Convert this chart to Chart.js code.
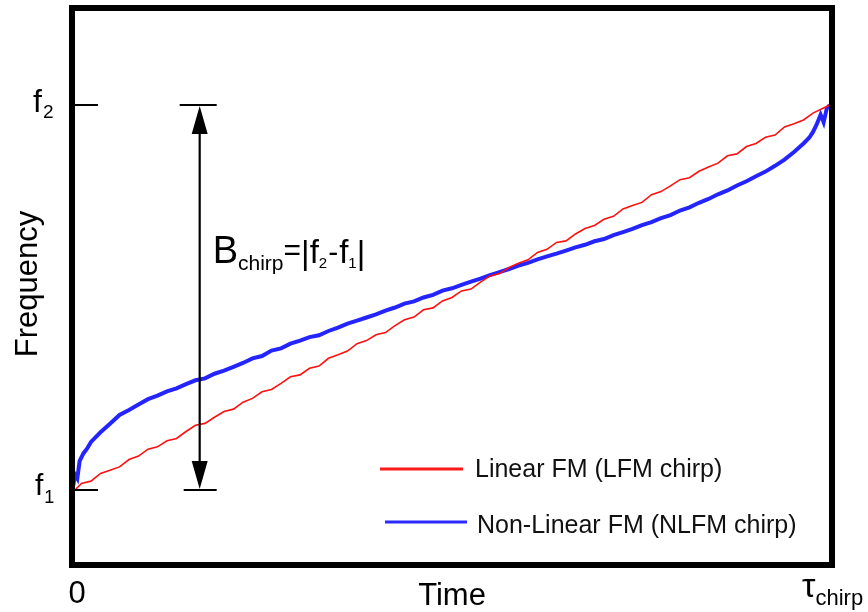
<!DOCTYPE html>
<html>
<head>
<meta charset="utf-8">
<script src="https://cdn.jsdelivr.net/npm/chart.js@4"></script>
<style>
html,body{margin:0;padding:0;background:#fff;}
#wrap{width:868px;height:612px;}
</style>
</head>
<body>
<div id="wrap"><canvas id="c" width="868" height="612"></canvas></div>
<script>
// ---- data (normalised: time 0..1 = 0..tau_chirp, frequency 0 = f1, 1 = f2) ----
const seriesLabels = ["Linear FM (LFM chirp)", "Non-Linear FM (NLFM chirp)"];
const redT = [0.004,0.0125,0.025,0.0375,0.05,0.0625,0.075,0.0875,0.1,0.1125,0.125,0.1375,0.15,0.1625,0.175,0.1875,0.2,0.2125,0.225,0.2375,0.25,0.2625,0.275,0.2875,0.3,0.3125,0.325,0.3375,0.35,0.3625,0.375,0.3875,0.4,0.4125,0.425,0.4375,0.45,0.4625,0.475,0.4875,0.5,0.5125,0.525,0.5375,0.55,0.5625,0.575,0.5875,0.6,0.6125,0.625,0.6375,0.65,0.6625,0.675,0.6875,0.7,0.7125,0.725,0.7375,0.75,0.7625,0.775,0.7875,0.8,0.8125,0.825,0.8375,0.85,0.8625,0.875,0.8875,0.9,0.9125,0.925,0.9375,0.95,0.9625,0.975,0.9875,0.997];
const redF = [0.000,0.017,0.023,0.043,0.051,0.060,0.079,0.088,0.106,0.112,0.128,0.134,0.152,0.168,0.173,0.189,0.204,0.210,0.228,0.238,0.255,0.261,0.277,0.294,0.299,0.316,0.322,0.342,0.351,0.361,0.380,0.388,0.403,0.409,0.427,0.442,0.449,0.468,0.473,0.491,0.500,0.517,0.522,0.540,0.556,0.562,0.578,0.589,0.598,0.617,0.625,0.643,0.647,0.665,0.679,0.687,0.703,0.711,0.730,0.739,0.747,0.767,0.775,0.790,0.806,0.811,0.828,0.839,0.849,0.868,0.873,0.892,0.900,0.916,0.922,0.943,0.951,0.961,0.979,0.991,1.000];
const blueT = [0.001,0.004,0.007,0.010,0.015,0.020,0.025,0.0375,0.05,0.0625,0.075,0.0875,0.1,0.1125,0.125,0.1375,0.15,0.1625,0.175,0.1875,0.2,0.2125,0.225,0.2375,0.25,0.2625,0.275,0.2875,0.3,0.3125,0.325,0.3375,0.35,0.3625,0.375,0.3875,0.4,0.4125,0.425,0.4375,0.45,0.4625,0.475,0.4875,0.5,0.5125,0.525,0.5375,0.55,0.5625,0.575,0.5875,0.6,0.6125,0.625,0.6375,0.65,0.6625,0.675,0.6875,0.7,0.7125,0.725,0.7375,0.75,0.7625,0.775,0.7875,0.8,0.8125,0.825,0.8375,0.85,0.8625,0.875,0.8875,0.9,0.9125,0.925,0.9375,0.95,0.9625,0.97,0.975,0.98,0.985,0.989,0.993,0.997];
const blueF = [0.005,0.040,0.030,0.075,0.095,0.108,0.125,0.150,0.172,0.195,0.208,0.222,0.236,0.245,0.256,0.264,0.275,0.285,0.290,0.302,0.310,0.320,0.330,0.342,0.348,0.362,0.368,0.380,0.388,0.397,0.402,0.413,0.422,0.432,0.440,0.448,0.456,0.466,0.474,0.484,0.490,0.500,0.507,0.518,0.524,0.533,0.541,0.549,0.558,0.566,0.574,0.583,0.590,0.599,0.607,0.614,0.622,0.630,0.637,0.646,0.652,0.662,0.670,0.678,0.688,0.696,0.706,0.714,0.726,0.734,0.746,0.756,0.768,0.778,0.791,0.802,0.815,0.827,0.842,0.858,0.878,0.900,0.915,0.930,0.950,0.975,0.955,0.990,1.000];
const yTickLabels = [{v:0, main:"f", sub:"1"}, {v:1, main:"f", sub:"2"}];
const xTickLabels = [{v:0, text:"0"}, {v:1, main:"\u03c4", sub:"chirp"}];
const xTitle = "Time";
const yTitle = "Frequency";
const arrowT = 0.168;   // time position of the bandwidth arrow

const FONT = '"Liberation Sans", Arial, Helvetica, sans-serif';
const f = (s) => s + 'px ' + FONT;

const decor = {
  id: 'decor',
  afterDraw(chart) {
    const ctx = chart.ctx;
    const xs = chart.scales.x, ys = chart.scales.y;
    const ca = chart.chartArea;
    ctx.save();
    ctx.fillStyle = '#000';
    ctx.strokeStyle = '#000';
    // frame
    ctx.lineWidth = 6;
    ctx.strokeRect(ca.left, ca.top, ca.right - ca.left, ca.bottom - ca.top);
    // y tick marks
    ctx.lineWidth = 2;
    yTickLabels.forEach(t => {
      const py = Math.round(ys.getPixelForValue(t.v));
      ctx.beginPath(); ctx.moveTo(ca.left, py); ctx.lineTo(ca.left + 26, py); ctx.stroke();
    });
    // bandwidth arrow
    const ax = xs.getPixelForValue(arrowT);
    const yTop = ys.getPixelForValue(1), yBot = ys.getPixelForValue(0);
    ctx.lineWidth = 2.2;
    ctx.beginPath();
    ctx.moveTo(ax, yTop + 20); ctx.lineTo(ax, yBot - 20);
    ctx.moveTo(ax - 20, yTop); ctx.lineTo(ax + 17, yTop);
    ctx.moveTo(ax - 16, yBot); ctx.lineTo(ax + 17, yBot);
    ctx.stroke();
    ctx.beginPath();
    ctx.moveTo(ax, yTop + 1); ctx.lineTo(ax - 8, yTop + 29); ctx.lineTo(ax + 8, yTop + 29); ctx.closePath();
    ctx.moveTo(ax, yBot - 1); ctx.lineTo(ax - 8, yBot - 29); ctx.lineTo(ax + 8, yBot - 29); ctx.closePath();
    ctx.fill();

    ctx.textAlign = 'left';
    ctx.textBaseline = 'alphabetic';
    // y tick labels
    yTickLabels.forEach((t) => {
      const py = ys.getPixelForValue(t.v);
      const cfg = t.v === 1 ? {x:33, fs:32, ss:19, base: py + 7, sbase: py + 13} : {x:35, fs:30, ss:18, base: py + 5, sbase: py + 13};
      ctx.font = f(cfg.fs);
      ctx.fillText(t.main, cfg.x, cfg.base);
      const w = ctx.measureText(t.main).width;
      ctx.font = f(cfg.ss);
      ctx.fillText(t.sub, cfg.x + w + 1, cfg.sbase);
    });
    // x tick labels
    ctx.font = f(31);
    ctx.textAlign = 'center';
    ctx.fillText(xTickLabels[0].text, xs.getPixelForValue(xTickLabels[0].v) + 5, 603);
    ctx.textAlign = 'left';
    ctx.font = f(34);
    const tx = xs.getPixelForValue(xTickLabels[1].v) - 30;
    ctx.fillText(xTickLabels[1].main, tx, 597);
    const tw = ctx.measureText(xTickLabels[1].main).width;
    ctx.font = f(22);
    ctx.fillText(xTickLabels[1].sub, tx + tw, 605);
    // axis titles
    ctx.font = f(31);
    ctx.textAlign = 'center';
    ctx.fillText(xTitle, (ca.left + ca.right) / 2, 605);
    ctx.save();
    ctx.translate(37, 284);
    ctx.rotate(-Math.PI / 2);
    ctx.font = f(31);
    ctx.fillText(yTitle, 0, 0);
    ctx.restore();

    // B_chirp = |f2 - f1|
    ctx.textAlign = 'left';
    let x = ax + 13;
    const base = 263;
    const piece = (txt, size, b, gap) => {
      ctx.font = f(size);
      ctx.fillText(txt, x, b);
      x += ctx.measureText(txt).width + (gap || 0);
    };
    piece("B", 38, base, 0);
    piece("chirp", 21, base + 7, 0);
    piece("=", 30, base - 3, 0);
    piece("|", 33, base + 1, 0);
    piece("f", 33, base, 0);
    piece("2", 15, base + 5, 1);
    piece("-", 30, base - 1, 1);
    piece("f", 33, base, 0);
    piece("1", 15, base + 5, 0);
    piece("|", 33, base + 1, 0);

    // legend
    const lg = [{color:'#ff1a1a', y:469, x1:380, x2:463, tx:475, ty:477, lw:3},
                {color:'#2b2bff', y:522, x1:385, x2:467, tx:477, ty:533, lw:3}];
    chart.data.datasets.forEach((ds, i) => {
      const g = lg[i];
      ctx.strokeStyle = g.color; ctx.lineWidth = g.lw;
      ctx.beginPath(); ctx.moveTo(g.x1, g.y); ctx.lineTo(g.x2, g.y); ctx.stroke();
      ctx.fillStyle = '#111';
      ctx.font = f(25);
      ctx.fillText(ds.label, g.tx, g.ty);
    });
    ctx.restore();
  }
};

const toXY = (ts, vs) => ts.map((t, i) => ({x: t, y: vs[i]}));

new Chart(document.getElementById('c'), {
  type: 'line',
  data: {
    datasets: [
      {label: seriesLabels[0], data: toXY(redT, redF), borderColor: '#ff1010', borderWidth: 1.6, pointRadius: 0, tension: 0, order: 1},
      {label: seriesLabels[1], data: toXY(blueT, blueF), borderColor: '#2424ff', borderWidth: 4, pointRadius: 0, tension: 0, order: 2}
    ]
  },
  options: {
    responsive: false,
    animation: false,
    devicePixelRatio: 1,
    layout: {padding: {left: 72, right: 36, top: 8, bottom: 47}},
    plugins: {legend: {display: false}, tooltip: {enabled: false}},
    scales: {
      x: {type: 'linear', min: 0, max: 1, display: false},
      y: {type: 'linear', min: -0.19481, max: 1.25195, display: false}
    }
  },
  plugins: [decor]
});
</script>
</body>
</html>
